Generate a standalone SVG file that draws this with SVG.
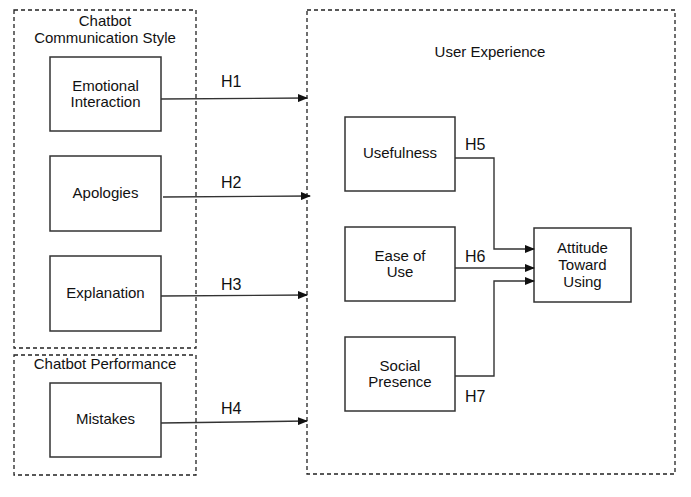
<svg xmlns="http://www.w3.org/2000/svg" width="691" height="497" viewBox="0 0 691 497">
<style>
.grp{fill:none;stroke:#222;stroke-width:1.3;stroke-dasharray:4,3}
.box{fill:#fff;stroke:#333;stroke-width:1.5}
.t{font-family:"Liberation Sans","DejaVu Sans",sans-serif;font-size:15px;fill:#111;text-anchor:middle}
.h{font-family:"Liberation Sans",Arial,sans-serif;font-size:16px;fill:#111}
.c{fill:none;stroke:#333;stroke-width:1.4}
</style>
<defs>
<marker id="ah" markerWidth="10" markerHeight="8" refX="9" refY="4" orient="auto" markerUnits="userSpaceOnUse">
<path d="M0,0 L10,4 L0,8 Z" fill="#111"/>
</marker>
</defs>
<rect width="691" height="497" fill="#fff"/>
<g id="group-communication">
<rect class="grp" x="14" y="10" width="182" height="338"/>
<text class="t" x="105" y="26">Chatbot</text>
<text class="t" x="105" y="43">Communication Style</text>
</g>
<g id="group-performance">
<rect class="grp" x="14" y="355" width="182" height="120"/>
<text class="t" x="105" y="369">Chatbot Performance</text>
</g>
<g id="group-ux">
<rect class="grp" x="307" y="10" width="368" height="464"/>
<text class="t" x="490" y="57">User Experience</text>
</g>
<g id="emotional">
<rect class="box" x="50" y="57" width="111" height="74"/>
<text class="t" x="105.5" y="91">Emotional</text>
<text class="t" x="105.5" y="107">Interaction</text>
</g>
<g id="apologies">
<rect class="box" x="50" y="156" width="111" height="75"/>
<text class="t" x="105.5" y="198">Apologies</text>
</g>
<g id="explanation">
<rect class="box" x="50" y="256" width="111" height="75"/>
<text class="t" x="105.5" y="298">Explanation</text>
</g>
<g id="mistakes">
<rect class="box" x="50" y="383" width="111" height="74"/>
<text class="t" x="105.5" y="424">Mistakes</text>
</g>
<g id="usefulness">
<rect class="box" x="345" y="117" width="110" height="74"/>
<text class="t" x="400" y="158">Usefulness</text>
</g>
<g id="ease">
<rect class="box" x="345" y="227" width="110" height="74"/>
<text class="t" x="400" y="261">Ease of</text>
<text class="t" x="400" y="277">Use</text>
</g>
<g id="social">
<rect class="box" x="345" y="337" width="110" height="74"/>
<text class="t" x="400" y="371">Social</text>
<text class="t" x="400" y="387">Presence</text>
</g>
<g id="attitude">
<rect class="box" x="534" y="228" width="97" height="74"/>
<text class="t" x="582.5" y="253">Attitude</text>
<text class="t" x="582.5" y="270">Toward</text>
<text class="t" x="582.5" y="287">Using</text>
</g>
<g id="connectors">
<line class="c" x1="161" y1="99" x2="307" y2="98" marker-end="url(#ah)"/>
<line class="c" x1="163" y1="197" x2="310" y2="196" marker-end="url(#ah)"/>
<line class="c" x1="161" y1="296" x2="307" y2="295" marker-end="url(#ah)"/>
<line class="c" x1="161" y1="423" x2="307" y2="421" marker-end="url(#ah)"/>
<polyline class="c" points="455,158 494,158 494,249 534,249" marker-end="url(#ah)"/>
<line class="c" x1="455" y1="268" x2="534" y2="268" marker-end="url(#ah)"/>
<polyline class="c" points="455,376 494,376 494,281 534,281" marker-end="url(#ah)"/>
<text class="h" x="221" y="87">H1</text>
<text class="h" x="221" y="188">H2</text>
<text class="h" x="221" y="290">H3</text>
<text class="h" x="221" y="414">H4</text>
<text class="h" x="465" y="150">H5</text>
<text class="h" x="465" y="262">H6</text>
<text class="h" x="465" y="402">H7</text>
</g>
</svg>
